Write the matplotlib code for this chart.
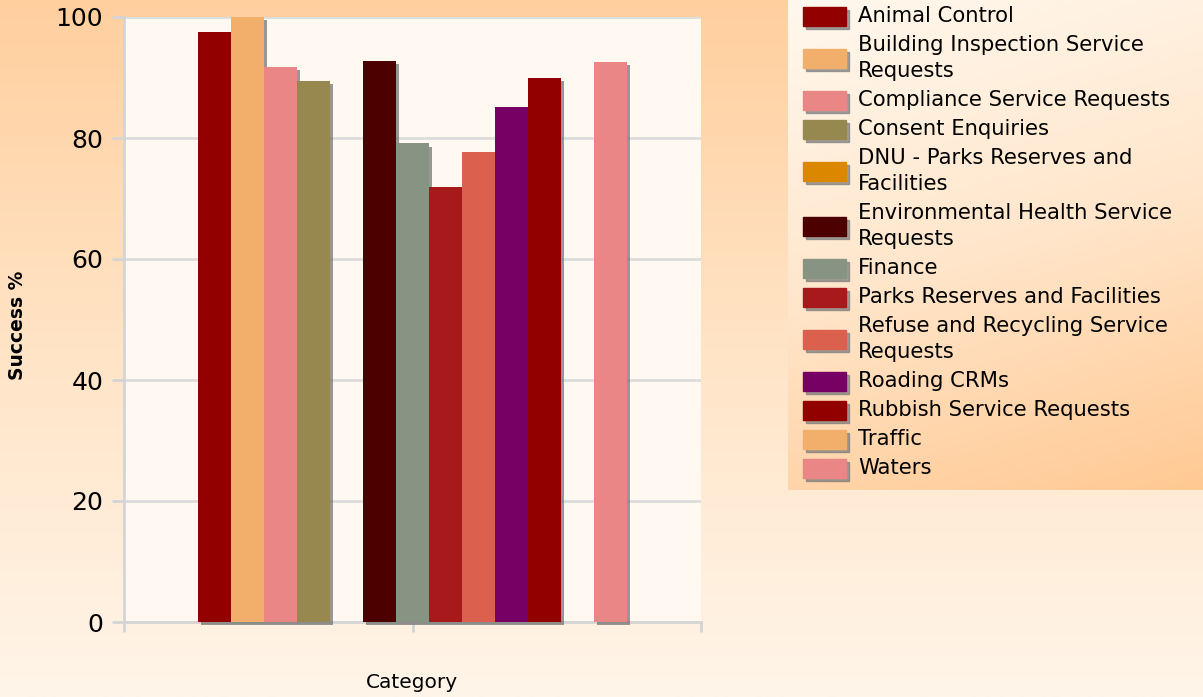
import numpy as np
import matplotlib.pyplot as plt
from matplotlib.patches import Rectangle
from matplotlib.colors import LinearSegmentedColormap
import matplotlib.patheffects as pe

# success rate per request type (blank = no data)
series = ["Animal Control", "Building Inspection Service Requests",
          "Compliance Service Requests", "Consent Enquiries",
          "DNU - Parks Reserves and Facilities",
          "Environmental Health Service Requests", "Finance",
          "Parks Reserves and Facilities",
          "Refuse and Recycling Service Requests", "Roading CRMs",
          "Rubbish Service Requests", "Traffic", "Waters"]
legend_lines = [["Animal Control"],
                ["Building Inspection Service", "Requests"],
                ["Compliance Service Requests"],
                ["Consent Enquiries"],
                ["DNU - Parks Reserves and", "Facilities"],
                ["Environmental Health Service", "Requests"],
                ["Finance"],
                ["Parks Reserves and Facilities"],
                ["Refuse and Recycling Service", "Requests"],
                ["Roading CRMs"],
                ["Rubbish Service Requests"],
                ["Traffic"],
                ["Waters"]]
success = [97.6, 100.0, 91.8, 89.4, np.nan, 92.7, 79.1, 71.9, 77.7,
           85.1, 89.9, np.nan, 92.6]
colors = ["#930000", "#F2AF6C", "#EB8686", "#978850", "#DB8700",
          "#4D0000", "#889483", "#A7191B", "#DB604D", "#760064",
          "#930000", "#F2AF6C", "#EB8686"]
yticks = [0, 20, 40, 60, 80, 100]

W, H = 1203, 697
fig = plt.figure(figsize=(W / 100, H / 100), dpi=100)

# page background: peach at the top fading to cream
bg = fig.add_axes([0, 0, 1, 1], zorder=-10)
bg_cmap = LinearSegmentedColormap.from_list("bg", ["#FFCF9E", "#FFE4C6", "#FFF5E9"])
bg.imshow(np.linspace(0, 1, 256).reshape(-1, 1), aspect="auto", cmap=bg_cmap,
          extent=(0, 1, 0, 1), origin="upper")
bg.axis("off")

ax = fig.add_axes([124 / W, (H - 622) / H, 577 / W, 605 / H])
ax.set_facecolor("#FFF9F2")

n = len(series)
group_width = n * 33 / 577
bar_w = group_width / n
x = -group_width / 2 + bar_w * (np.arange(n) + 0.5)
shadow = [pe.SimplePatchShadow(offset=(2.2, -2.2), shadow_rgbFace="#6E6E6E", alpha=0.7),
          pe.Normal()]
bars = ax.bar(x, success, bar_w, color=colors, zorder=3, clip_on=False)
for b in bars:
    b.set_path_effects(shadow)

ax.set_xlim(-0.5, 0.5)
ax.set_ylim(0, 100)
ax.set_yticks(yticks)
ax.set_xticks([-0.5, 0, 0.5])
ax.set_xticklabels(["", "", ""])
ax.yaxis.grid(True, color="#DCDCDC", linewidth=2)
ax.set_axisbelow(True)
for s in ["top", "right"]:
    ax.spines[s].set_visible(False)
for s in ["left", "bottom"]:
    ax.spines[s].set_color("#D4D4D4")
    ax.spines[s].set_linewidth(2)
ax.tick_params(axis="y", length=9, width=2, color="#D4D4D4", labelsize=18, pad=6)
ax.tick_params(axis="x", length=7, width=2, color="#D4D4D4")

fig.text(18 / W, 1 - 325 / H, "Success %", rotation=90, ha="center", va="center",
         fontsize=13.5, fontweight="bold")
fig.text(412 / W, 1 - 683 / H, "Category", ha="center", va="center", fontsize=14.5)

# legend panel drawn in pixel coordinates
lg = fig.add_axes([0, 0, 1, 1], zorder=5)
lg.set_xlim(0, W)
lg.set_ylim(H, 0)
lg.axis("off")
lx0, lx1, ly1 = 788, W, 490
uu, vv = np.meshgrid(np.linspace(0, 1, 200), np.linspace(0, 1, 200))
lg_cmap = LinearSegmentedColormap.from_list("lg", ["#FFF8EE", "#FFE6CB", "#FFC993"])
lg.imshow(np.clip(0.8 * vv + 0.2 * uu, 0, 1), cmap=lg_cmap, aspect="auto",
          extent=(lx0, lx1, ly1, 0), origin="upper", zorder=0)

cursor = 1.5
for lines, c in zip(legend_lines, colors):
    h = 29 + 26 * (len(lines) - 1)
    cy = cursor + h / 2
    lg.add_patch(Rectangle((806, cy - 6.5), 43, 19, color="#7A7A7A", alpha=0.7, zorder=1))
    lg.add_patch(Rectangle((803, cy - 9.5), 43, 19, color=c, zorder=2))
    for k, line in enumerate(lines):
        ty = cy + (k - (len(lines) - 1) / 2) * 26
        lg.text(858, ty, line, fontsize=15.2, va="center", ha="left", zorder=3)
    cursor += h

fig.savefig("out.png", dpi=100)
